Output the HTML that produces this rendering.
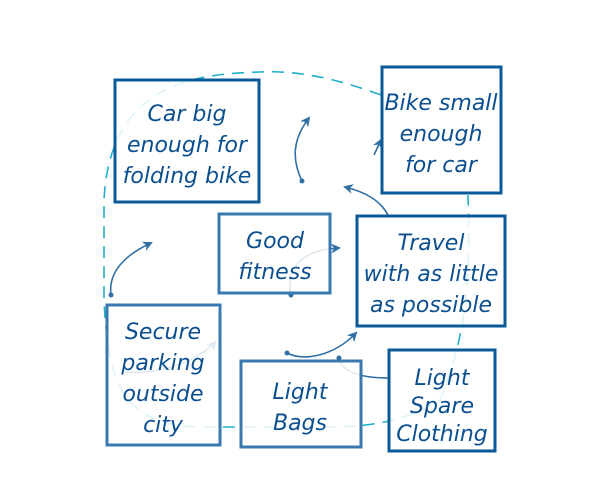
<!DOCTYPE html>
<html><head><meta charset="utf-8"><style>
html,body{margin:0;padding:0;background:#fff;width:600px;height:500px;overflow:hidden}
text{font-family:"DejaVu Sans","Liberation Sans",sans-serif;font-style:italic;font-size:22px;fill:#0b4f8f;text-anchor:middle}
</style></head><body>
<svg width="600" height="500" viewBox="0 0 600 500">
<defs>
<marker id="ah" markerWidth="10" markerHeight="10" refX="8" refY="5" orient="auto" markerUnits="userSpaceOnUse"><path d="M0,0 L10,5 L0,10 L3,5 Z" fill="#2f6fa3"/></marker>
</defs>
<path d="M381,95 C340,80 300,70 260,72 C200,74 110,80 104,200 L104,300 C108,380 120,425 200,427 L320,427 C360,427 400,425 440,400 C470,330 470,260 468,195" fill="none" stroke="#1fb0c8" stroke-width="1.6" stroke-dasharray="12,8"/>
<g fill="none" stroke="#2f6fa3" stroke-width="1.6">
<path d="M302,181 C292,160 292,140 309,118" marker-end="url(#ah)"/>
<path d="M388,215 C380,200 365,192 345,187" marker-end="url(#ah)"/>
<path d="M374,155 L381,140" marker-end="url(#ah)"/>
<path d="M111,295 C108,272 125,255 151,243" marker-end="url(#ah)"/>
<path d="M291,295 C285,265 305,250 339,248" marker-end="url(#ah)"/>
<path d="M287,353 C305,362 335,355 356,333" marker-end="url(#ah)"/>
<path d="M389,378 C360,378 342,372 339,358"/>
<path d="M125,372 C160,375 200,360 215,342" marker-end="url(#ah)"/>
</g>
<g fill="#2f6fa3"><circle cx="302" cy="181" r="2.5"/><circle cx="111" cy="295" r="2.5"/><circle cx="291" cy="295" r="2.5"/><circle cx="287" cy="353" r="2.5"/><circle cx="339" cy="358" r="2.5"/></g>
<g fill="rgba(255,255,255,0.85)" stroke-width="3">
<rect x="115" y="80" width="144" height="122" stroke="#0b5a98"/>
<rect x="382" y="67" width="119" height="126" stroke="#0b5a98"/>
<rect x="219" y="214" width="111" height="79" stroke="#3a79b0"/>
<rect x="357" y="216" width="148" height="110" stroke="#0b5a98"/>
<rect x="107" y="305" width="113" height="140" stroke="#3a79b0"/>
<rect x="241" y="361" width="120" height="86" stroke="#3a79b0"/>
<rect x="389" y="350" width="106" height="101" stroke="#0b5a98"/>
</g>
<g>
<text x="187" y="121">Car big</text>
<text x="187" y="152">enough for</text>
<text x="187" y="183">folding bike</text>
<text x="441" y="110">Bike small</text>
<text x="441" y="141">enough</text>
<text x="441" y="172">for car</text>
<text x="275" y="248">Good</text>
<text x="275" y="279">fitness</text>
<text x="431" y="250">Travel</text>
<text x="431" y="281">with as little</text>
<text x="431" y="312">as possible</text>
<text x="163" y="339">Secure</text>
<text x="163" y="370">parking</text>
<text x="163" y="401">outside</text>
<text x="163" y="432">city</text>
<text x="300" y="399">Light</text>
<text x="300" y="430">Bags</text>
<text x="442" y="385">Light</text>
<text x="442" y="413">Spare</text>
<text x="442" y="441">Clothing</text>
</g>
</svg>
</body></html>
